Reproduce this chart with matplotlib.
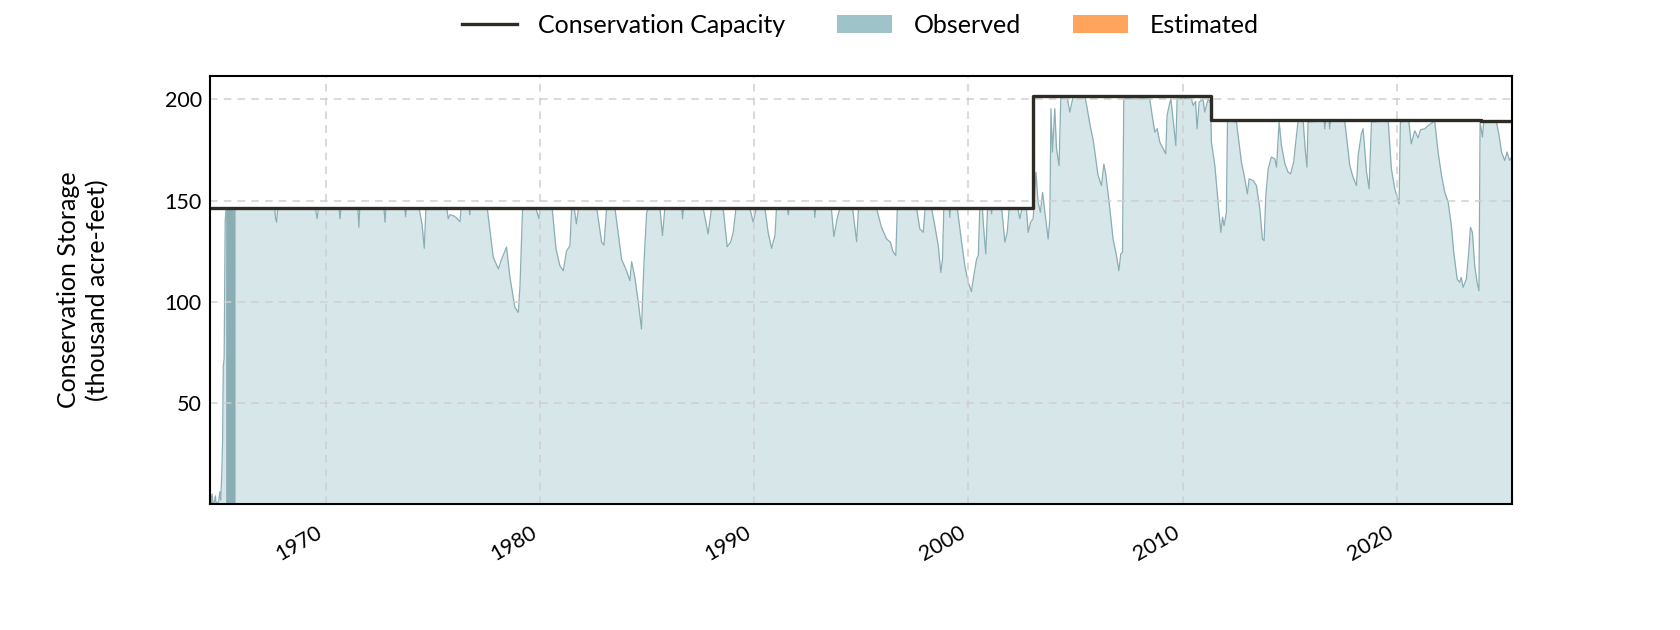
import matplotlib
matplotlib.use("Agg")
import matplotlib.pyplot as plt
from matplotlib.lines import Line2D
from matplotlib.patches import Patch
from matplotlib.ticker import MultipleLocator, FixedLocator

plt.rcParams['font.family'] = ['Lato', 'DejaVu Sans']

# ---------------- data ----------------
obs_years = [
    1964.60, 1964.63, 1964.66, 1964.70, 1964.73, 1964.80, 1964.85, 1964.88, 1965.00, 1965.06,
    1965.10, 1965.15, 1965.19, 1965.22, 1965.26, 1965.31, 1965.35, 1965.70, 1965.74, 1965.78,
    1967.62, 1967.66, 1967.71, 1967.76, 1969.52, 1969.60, 1969.66, 1970.62, 1970.67, 1970.71,
    1971.50, 1971.55, 1971.59, 1972.72, 1972.77, 1972.81, 1973.69, 1973.73, 1973.77, 1974.36,
    1974.50, 1974.60, 1974.68, 1975.65, 1975.72, 1975.80, 1975.96, 1976.10, 1976.27, 1976.32,
    1976.70, 1976.72, 1976.74, 1977.54, 1977.82, 1978.06, 1978.21, 1978.44, 1978.60, 1978.83,
    1978.99, 1979.07, 1979.19, 1979.81, 1979.95, 1980.00, 1980.57, 1980.75, 1980.93, 1981.09,
    1981.24, 1981.40, 1981.48, 1981.60, 1981.70, 1981.80, 1982.65, 1982.88, 1982.99, 1983.11,
    1983.50, 1983.81, 1984.04, 1984.20, 1984.28, 1984.43, 1984.59, 1984.74, 1984.85, 1984.98,
    1985.05, 1985.60, 1985.72, 1985.83, 1986.62, 1986.66, 1986.70, 1987.62, 1987.85, 1988.01,
    1988.55, 1988.74, 1988.90, 1989.02, 1989.15, 1989.80, 1989.95, 1990.10, 1990.50, 1990.65,
    1990.81, 1990.97, 1991.04, 1991.55, 1991.59, 1991.63, 1992.80, 1992.83, 1992.87, 1993.60,
    1993.72, 1993.87, 1994.00, 1994.59, 1994.78, 1994.87, 1995.71, 1995.94, 1996.18, 1996.36,
    1996.46, 1996.61, 1996.68, 1997.58, 1997.73, 1997.89, 1997.98, 1998.28, 1998.43, 1998.59,
    1998.71, 1998.79, 1998.85, 1999.10, 1999.13, 1999.16, 1999.48, 1999.68, 1999.83, 1999.99,
    2000.14, 2000.25, 2000.38, 2000.46, 2000.53, 2000.65, 2000.70, 2000.81, 2000.89, 2001.05,
    2001.08, 2001.11, 2001.55, 2001.70, 2001.81, 2001.90, 2002.30, 2002.40, 2002.50, 2002.70,
    2002.79, 2002.90, 2003.02, 2003.15, 2003.25, 2003.36, 2003.46, 2003.57, 2003.72, 2003.80,
    2003.85, 2003.92, 2004.03, 2004.11, 2004.23, 2004.31, 2004.60, 2004.73, 2004.89, 2005.45,
    2005.60, 2005.70, 2005.82, 2006.05, 2006.21, 2006.32, 2006.41, 2006.60, 2006.75, 2006.91,
    2007.02, 2007.11, 2007.19, 2007.25, 2008.46, 2008.62, 2008.70, 2008.81, 2008.93, 2009.09,
    2009.21, 2009.27, 2009.37, 2009.45, 2009.55, 2009.68, 2009.74, 2010.40, 2010.49, 2010.60,
    2010.67, 2010.77, 2010.95, 2011.03, 2011.19, 2011.30, 2011.34, 2011.50, 2011.65, 2011.78,
    2011.86, 2011.93, 2012.04, 2012.09, 2012.51, 2012.59, 2012.74, 2012.90, 2013.02, 2013.10,
    2013.29, 2013.44, 2013.60, 2013.72, 2013.80, 2013.88, 2013.99, 2014.14, 2014.30, 2014.38,
    2014.50, 2014.61, 2014.77, 2014.92, 2015.04, 2015.18, 2015.31, 2015.39, 2015.62, 2015.72,
    2015.80, 2015.85, 2016.60, 2016.63, 2016.67, 2016.83, 2016.86, 2016.90, 2017.56, 2017.80,
    2017.95, 2018.11, 2018.19, 2018.34, 2018.42, 2018.58, 2018.70, 2018.81, 2019.59, 2019.74,
    2019.90, 2020.10, 2020.16, 2020.55, 2020.67, 2020.83, 2020.99, 2021.10, 2021.30, 2021.45,
    2021.69, 2021.76, 2021.92, 2022.08, 2022.23, 2022.39, 2022.54, 2022.65, 2022.81, 2022.93,
    2023.00, 2023.09, 2023.24, 2023.35, 2023.43, 2023.52, 2023.63, 2023.74, 2023.83, 2023.88,
    2023.99, 2024.05, 2024.64, 2024.77, 2024.88, 2025.03, 2025.14, 2025.26, 2025.37,
]
obs_values = [
    0.5, 4.0, 0.5, 5.0, 0.5, 1.0, 4.0, 0.5, 1.0, 6.0,
    2.0, 15.0, 33.0, 68.0, 72.0, 140.0, 146.2, 146.2, 139.3, 146.2,
    146.2, 141.0, 139.3, 146.2, 146.2, 141.0, 146.2, 146.2, 141.0, 146.2,
    146.2, 136.8, 146.2, 146.2, 139.3, 146.2, 146.2, 142.0, 146.2, 146.2,
    138.0, 126.4, 146.2, 146.2, 141.0, 143.0, 142.5, 141.5, 139.5, 146.2,
    146.2, 143.0, 146.2, 146.2, 122.0, 116.2, 121.0, 127.0, 112.0, 97.2,
    94.7, 108.0, 146.2, 146.2, 141.0, 146.2, 146.2, 126.0, 117.8, 115.3,
    125.0, 127.7, 146.2, 146.2, 138.5, 146.2, 146.2, 129.4, 128.0, 146.2,
    146.2, 121.0, 115.3, 110.4, 119.8, 112.0, 99.7, 86.5, 117.8, 144.0,
    146.2, 146.2, 132.7, 146.2, 146.2, 141.0, 146.2, 146.2, 133.5, 146.2,
    146.2, 127.2, 129.4, 134.3, 146.2, 146.2, 139.3, 146.2, 146.2, 134.3,
    126.4, 132.7, 146.2, 146.2, 143.0, 146.2, 146.2, 141.7, 146.2, 146.2,
    132.2, 141.0, 146.2, 146.2, 129.7, 146.2, 146.2, 136.8, 131.0, 129.4,
    125.2, 122.8, 146.2, 146.2, 136.0, 134.3, 146.2, 146.2, 137.6, 127.7,
    114.5, 121.0, 146.2, 146.2, 141.7, 146.2, 146.2, 129.4, 117.8, 109.6,
    105.0, 112.9, 121.0, 122.8, 146.2, 146.2, 137.6, 123.6, 146.2, 146.2,
    143.4, 146.2, 146.2, 129.4, 134.3, 146.2, 146.2, 141.0, 146.2, 146.2,
    134.3, 139.3, 141.0, 164.0, 149.2, 144.2, 154.0, 144.0, 131.0, 141.0,
    195.4, 174.0, 195.4, 175.6, 167.3, 200.3, 201.5, 193.7, 201.5, 201.0,
    192.0, 186.0, 180.0, 162.4, 157.4, 168.0, 163.0, 145.9, 131.0, 122.8,
    115.3, 123.6, 124.4, 200.3, 200.3, 188.8, 183.8, 185.5, 178.9, 175.6,
    173.1, 192.0, 197.0, 200.3, 190.4, 177.2, 200.3, 200.5, 197.0, 199.0,
    185.5, 198.7, 200.0, 193.7, 200.3, 198.0, 178.9, 167.3, 149.2, 134.3,
    141.7, 137.6, 144.0, 189.6, 188.8, 182.0, 169.0, 160.7, 153.3, 160.7,
    159.9, 157.4, 145.9, 131.0, 130.2, 152.5, 165.7, 171.5, 170.6, 166.5,
    188.8, 177.2, 168.2, 164.0, 163.2, 169.0, 182.2, 189.6, 189.6, 175.0,
    166.5, 188.8, 189.5, 185.5, 189.5, 189.5, 185.5, 189.5, 189.5, 167.3,
    161.5, 157.4, 172.3, 183.0, 185.5, 164.0, 155.8, 188.8, 189.5, 165.7,
    155.8, 148.3, 188.8, 189.5, 178.0, 184.5, 181.0, 185.0, 185.5, 187.0,
    188.8, 189.5, 173.9, 162.4, 154.1, 149.2, 137.6, 124.4, 111.2, 109.6,
    112.0, 107.1, 111.2, 124.4, 136.8, 134.3, 117.8, 109.6, 105.4, 188.8,
    181.4, 188.8, 189.0, 182.0, 174.0, 169.8, 174.0, 169.8, 172.0,
]

# densely sampled initial filling period (appears as a solid darker band)
fill_years = [1965.33, 1965.45, 1965.55, 1965.65, 1965.70, 1965.74, 1965.77]
fill_values = [146.2, 146.2, 146.2, 146.0, 141.0, 139.5, 146.2]

cap_years = [1964.60, 2003.02, 2011.34, 2023.94, 2025.37]
cap_values = [146.2, 201.5, 189.9, 189.4, 189.4]

y_ticks = [50, 100, 150, 200]

# ---------------- style ----------------
FILL = '#d7e6e9'
LINE = '#8aaeb4'
OBS_PATCH = '#9ec3c9'
EST_PATCH = '#ffa45c'
CAP = '#2e2a24'

fig = plt.figure(figsize=(16.8, 6.3), dpi=100)
ax = fig.add_axes([0.125, 0.2, 0.775, 0.6794])

ax.fill_between(obs_years, obs_values, 0, color=FILL, linewidth=0, zorder=1)
ax.fill_between(fill_years, fill_values, 0, color=LINE, linewidth=0, zorder=1.5)
ax.plot(obs_years, obs_values, color=LINE, linewidth=0.9, zorder=2)
ax.plot(cap_years, cap_values, drawstyle='steps-post', color=CAP, linewidth=2.4, zorder=3)

ax.set_xlim(min(obs_years), max(obs_years))
ax.set_ylim(0, max(cap_values) * 1.05)
ax.yaxis.set_major_locator(FixedLocator(y_ticks))
ax.xaxis.set_major_locator(MultipleLocator(10))
ax.xaxis.set_major_formatter(matplotlib.ticker.FuncFormatter(lambda v, p: f"{int(round(v))}"))

ax.grid(True, color='#cfcfcf', linestyle=(0, (5, 4)), linewidth=1.1, zorder=2.5)
ax.set_axisbelow(False)
ax.tick_params(axis='both', length=0, labelsize=15.5)
ax.tick_params(axis='y', pad=6)
ax.tick_params(axis='x', pad=13)
plt.setp(ax.get_xticklabels(), rotation=30, ha='right')
for s in ax.spines.values():
    s.set_linewidth(1.5)
    s.set_color('black')
    s.set_zorder(5)

ax.set_ylabel('Conservation Storage\n(thousand acre-feet)', fontsize=18, labelpad=40,
              linespacing=1.3)

handles = [
    Line2D([0], [0], color=CAP, linewidth=2.4),
    Patch(facecolor=OBS_PATCH, edgecolor='none'),
    Patch(facecolor=EST_PATCH, edgecolor='none'),
]
labels = ['Conservation Capacity', 'Observed', 'Estimated']
fig.legend(handles, labels, loc='center', bbox_to_anchor=(0.512, 0.96), ncol=3,
           frameon=False, fontsize=18, handlelength=2.2, handleheight=0.75,
           handletextpad=0.85, columnspacing=2.1)

fig.savefig('out.png', dpi=100)
